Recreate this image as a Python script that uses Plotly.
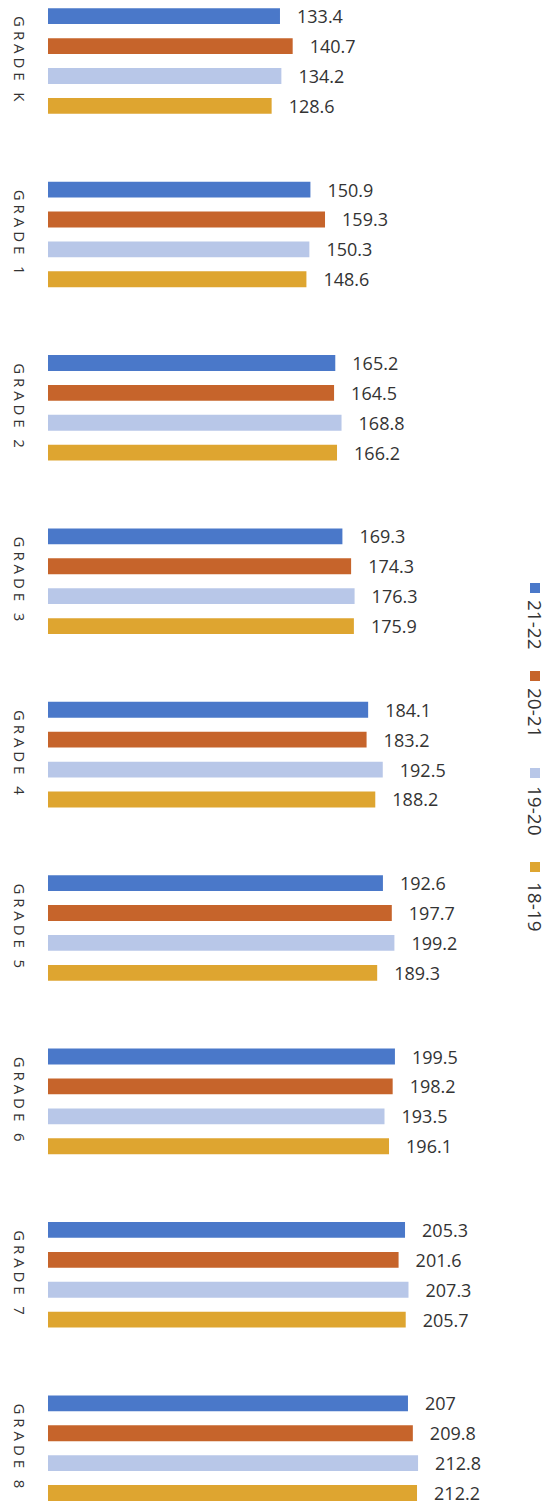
import plotly.graph_objects as go

grades = ["GRADE K", "GRADE 1", "GRADE 2", "GRADE 3", "GRADE 4", "GRADE 5", "GRADE 6", "GRADE 7", "GRADE 8"]
series_names = ["21-22", "20-21", "19-20", "18-19"]
v_21_22 = [133.4, 150.9, 165.2, 169.3, 184.1, 192.6, 199.5, 205.3, 207]
v_20_21 = [140.7, 159.3, 164.5, 174.3, 183.2, 197.7, 198.2, 201.6, 209.8]
v_19_20 = [134.2, 150.3, 168.8, 176.3, 192.5, 199.2, 193.5, 207.3, 212.8]
v_18_19 = [128.6, 148.6, 166.2, 175.9, 188.2, 189.3, 196.1, 205.7, 212.2]
series_values = [v_21_22, v_20_21, v_19_20, v_18_19]
colors = ["#4A78C9", "#C6642B", "#B8C7E8", "#DEA530"]

W, H = 555, 1504
ML, MR, MT, MB = 48, 55, 0, 0
PW = W - ML - MR
FONT = "Open Sans, Lato, sans-serif"

def spaced(s):
    return " ".join(list(s))

fig = go.Figure()
for name, vals, col in zip(series_names, series_values, colors):
    fig.add_trace(go.Bar(
        y=grades, x=vals, orientation="h", name=name,
        marker=dict(color=col, line=dict(width=0)),
        text=[f"{v:g}" for v in vals],
        texttemplate="   %{text}",
        textposition="outside", cliponaxis=False, constraintext="none",
        textfont=dict(family=FONT, size=18, color="#333333"),
        showlegend=False, hoverinfo="skip",
    ))

fig.update_layout(
    width=W, height=H, barmode="group", bargap=0.31, bargroupgap=0.47,
    margin=dict(l=ML, r=MR, t=MT, b=MB, autoexpand=False),
    paper_bgcolor="white", plot_bgcolor="white",
    xaxis=dict(range=[0, PW / 1.739], visible=False),
    yaxis=dict(type="category", range=[8.322, -0.352], showgrid=False, automargin=False,
               tickmode="array", tickvals=grades, ticktext=[spaced(g) for g in grades],
               tickangle=90, ticks="", showline=False, ticklabelstandoff=18,
               tickfont=dict(family=FONT, size=15, color="#333333")),
)

# Vertical legend (rotated)
sq = [588, 676, 773, 867]
tx = [625, 713, 811, 907]
for name, col, sy, ty in zip(series_names, colors, sq, tx):
    px = 535
    fig.add_shape(type="rect", xref="paper", yref="paper",
                  x0=(px - 5 - ML) / PW, x1=(px + 5 - ML) / PW,
                  y0=1 - (sy + 5) / H, y1=1 - (sy - 5) / H,
                  fillcolor=col, line=dict(width=0))
    fig.add_annotation(xref="paper", yref="paper", x=(px - ML) / PW, y=1 - ty / H,
                       text=name, showarrow=False, textangle=90,
                       xanchor="center", yanchor="middle",
                       font=dict(family=FONT, size=19, color="#333333"))

fig.write_html("out.html", config={"displayModeBar": False},
               post_script="document.body.style.margin='0';document.body.style.overflow='hidden';")
